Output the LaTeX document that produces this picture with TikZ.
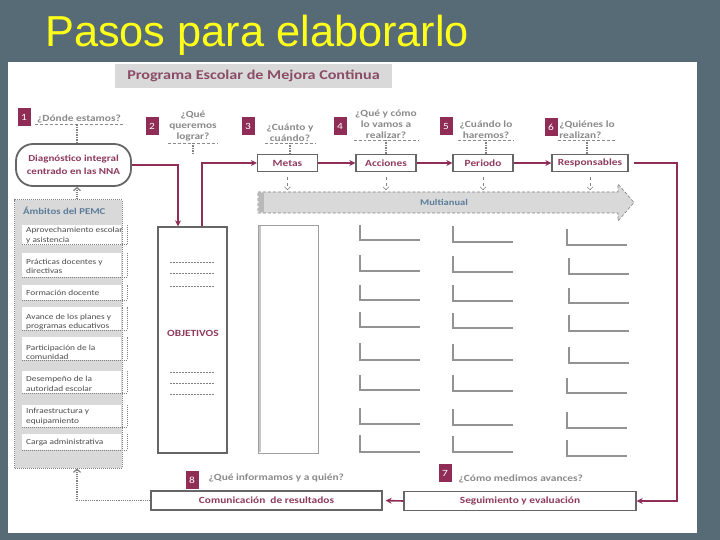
\documentclass[tikz,border=0pt]{standalone}
\usepackage{fontspec}
\setmainfont{Liberation Sans}
\newfontfamily\pemcfont{Carlito}[FakeStretch=1.2]
\usetikzlibrary{arrows.meta}

\definecolor{slate}{HTML}{566B76}
\definecolor{guinda}{HTML}{8F2D56}
\definecolor{guindatxt}{HTML}{8E3B5E}
\definecolor{txtgray}{HTML}{8A8A8A}
\definecolor{boxgray}{HTML}{666666}
\definecolor{fillgray}{HTML}{D9D9D9}
\definecolor{steel}{HTML}{5A7C9A}
\definecolor{titleyellow}{HTML}{FFFF1A}

\begin{document}
\begin{tikzpicture}[x=1bp, y=-1bp,
  badge/.style={fill=guinda, text=white, minimum width=13bp, minimum height=18bp, inner sep=0pt, font=\pemcfont\fontsize{9.5}{10}\selectfont},
  ask/.style={text=txtgray, font=\pemcfont\bfseries\fontsize{9.5}{11}\selectfont, align=center, inner sep=1.5bp},
  uline/.style={txtgray, densely dashed, line width=0.8bp},
  vlink/.style={gray, densely dotted, line width=1.5bp},
  stepbox/.style={draw=boxgray, line width=1.3bp, fill=white, minimum width=60bp, minimum height=17bp, inner sep=1bp, text=guindatxt, font=\pemcfont\bfseries\fontsize{9.5}{11}\selectfont},
  flow/.style={guinda, line width=1.6bp, -{Stealth[length=6bp, width=6bp]}},
  drop/.style={gray, dashed, line width=0.6bp, -{Straight Barb[length=3bp, width=6bp]}},
  dotlink/.style={gray, densely dotted, line width=1.2bp, -{Straight Barb[length=3bp, width=7bp]}},
  itemtxt/.style={anchor=west, inner sep=0pt, align=left, text=black!70, font=\pemcfont\fontsize{7.8}{9.5}\selectfont},
  itemedge/.style={gray, densely dotted, line width=1bp},
  objdash/.style={gray, dash pattern=on 2bp off 1bp, line width=0.7bp},
  lgray/.style={gray!85, line width=1.1bp}
]
  \useasboundingbox (0,0) rectangle (720,540);
  \fill[slate] (0,0) rectangle (720,540);
  \fill[white] (8,62) rectangle (697,533);

  \node[anchor=base west, inner sep=0pt, text=titleyellow, font=\fontsize{43.5}{50}\selectfont] (title) at (45,47) {Pasos para elaborarlo};
  \node[fill=fillgray, minimum width=277bp, minimum height=24bp, text=guindatxt!75!gray, font=\pemcfont\bfseries\fontsize{13.5}{15}\selectfont] (prog) at (253.5,76) {Programa Escolar de Mejora Continua};

  \node[badge] (b1) at (24,117) {1};
  \node[badge] (b2) at (152,126) {2};
  \node[badge] (b3) at (248,126) {3};
  \node[badge] (b4) at (340,126) {4};
  \node[badge] (b5) at (446,126) {5};
  \node[badge] (b6) at (551,127) {6};
  \node[badge] (b7) at (445,473) {7};
  \node[badge] (b8) at (192,480) {8};

  \node[ask, anchor=south] (q1) at (79,124.5) {¿Dónde estamos?};
  \node[ask, anchor=south] (q2) at (193,143) {¿Qué\\queremos\\lograr?};
  \node[ask, anchor=south] (q3) at (290,143) {¿Cuánto y\\cuándo?};
  \node[ask, anchor=south] (q4) at (386,140) {¿Qué y cómo\\lo vamos a\\realizar?};
  \node[ask, anchor=south] (q5) at (486,140) {¿Cuándo lo\\haremos?};
  \node[ask, anchor=south, align=left] (q6) at (587,140) {¿Quiénes lo\\realizan?};
  \node[ask, anchor=west] (q7) at (457,479) {¿Cómo medimos avances?};
  \node[ask, anchor=west] (q8) at (207,478) {¿Qué informamos y a quién?};

  \draw[uline] (q1.south west) -- (q1.south east);
  \draw[uline] (q2.south west) -- (q2.south east);
  \draw[uline] (q3.south west) -- (q3.south east);
  \draw[uline] (q4.south west) -- (q4.south east);
  \draw[uline] (q5.south west) -- (q5.south east);
  \draw[uline] (q6.south west) -- (q6.south east);

  \node[draw=boxgray, line width=1.8bp, rounded corners=17bp, minimum width=115bp, minimum height=42bp, align=center, text=guindatxt, font=\pemcfont\bfseries\fontsize{9.2}{13}\selectfont] (diag) at (73.5,165) {Diagnóstico integral\\centrado en las NNA};

  \node[stepbox] (metas) at (287.5,163) {Metas};
  \node[stepbox] (acciones) at (386,163) {Acciones};
  \node[stepbox] (periodo) at (483,163) {Periodo};
  \node[stepbox, minimum width=76bp] (resp) at (590,163) {Responsables};
  \node[stepbox, minimum width=231bp, minimum height=19bp] (com) at (266.5,500.5) {Comunicación\ \ de resultados};
  \node[stepbox, minimum width=232bp, minimum height=19bp] (seg) at (520,501) {Seguimiento y evaluación};

  \coordinate (q2end) at (193,155);
  \coordinate (rline) at (677,330);
  \draw[vlink] (q1.south -| 77,0) -- (diag.north -| 77,0);
  \draw[vlink] (q2.south) -- (q2end);
  \draw[vlink] (q3.south) -- (q3.south |- metas.north);
  \draw[vlink] (q4.south) -- (q4.south |- acciones.north);
  \draw[vlink] (q5.south) -- (q5.south |- periodo.north);
  \draw[vlink] (q6.south) -- (q6.south |- resp.north);

  \filldraw[fill=fillgray, draw=gray, densely dashed, line width=0.6bp] (258,192) -- (618,192) -- (618,184) -- (634,202.5) -- (618,221) -- (618,213) -- (258,213) -- cycle;
  \fill[gray!55] (258.5,193) rectangle (264,212.5);
  \node[text=steel, font=\pemcfont\bfseries\fontsize{8.8}{10}\selectfont] (multi) at (444,202) {Multianual};

  \draw[drop] ([yshift=-5bp]metas.south) -- ++(0,13);
  \draw[drop] ([yshift=-5bp]acciones.south) -- ++(0,13);
  \draw[drop] ([yshift=-5bp]periodo.south) -- ++(0,13);
  \draw[drop] ([yshift=-5bp]resp.south) -- ++(0,13);

  \node[draw=boxgray, line width=1.3bp, minimum width=69bp, minimum height=226bp] (obj) at (192.5,340) {};
  \node[text=guindatxt, font=\pemcfont\bfseries\fontsize{9.5}{11}\selectfont] (objlabel) at (193,333) {OBJETIVOS};
  \draw[objdash] (170,262) -- (214,262);
  \draw[objdash] (170,273) -- (214,273);
  \draw[objdash] (170,286) -- (214,286);
  \draw[objdash] (170,372) -- (214,372);
  \draw[objdash] (170,383) -- (214,383);
  \draw[objdash] (170,394) -- (214,394);

  \draw[flow] (diag.east) -| (obj.north -| 178,0);
  \draw[flow] (obj.north -| 202,0) |- (metas.west);
  \draw[flow] (metas) -- (acciones);
  \draw[flow] (acciones) -- (periodo);
  \draw[flow] (periodo) -- (resp);
  \draw[flow, shorten <=5bp] (resp.east) -| (rline) |- (seg.east);
  \draw[flow, shorten >=3bp] (seg.west) -- (com.east);

  \draw[gray!75, line width=0.8bp] (258,225) rectangle (318,453);
  \draw[gray!45, line width=2bp] (260,226) -- (260,452);

  \draw[lgray] (360,225) |- (420,240);
  \draw[lgray] (360,255) |- (420,271);
  \draw[lgray] (360,285) |- (420,300);
  \draw[lgray] (360,312) |- (420,327);
  \draw[lgray] (360,343) |- (420,360);
  \draw[lgray] (360,375) |- (420,390);
  \draw[lgray] (360,408) |- (420,424);
  \draw[lgray] (360,435) |- (420,452);
  \draw[lgray] (453,226) |- (513,242);
  \draw[lgray] (453,256) |- (513,272);
  \draw[lgray] (453,285) |- (513,301);
  \draw[lgray] (453,313) |- (513,328);
  \draw[lgray] (453,344) |- (513,360);
  \draw[lgray] (453,375) |- (513,391);
  \draw[lgray] (453,409) |- (513,425);
  \draw[lgray] (453,436) |- (513,452);
  \draw[lgray] (567,229) |- (627,245);
  \draw[lgray] (569,258) |- (629,274);
  \draw[lgray] (569,288) |- (629,303);
  \draw[lgray] (569,315) |- (629,331);
  \draw[lgray] (569,347) |- (629,363);
  \draw[lgray] (567,378) |- (627,393);
  \draw[lgray] (567,412) |- (627,428);
  \draw[lgray] (567,440) |- (627,456);

  \node[draw=gray, densely dotted, line width=1bp, fill=fillgray, minimum width=107bp, minimum height=268bp] (ambitos) at (68.5,334) {};
  \node[anchor=west, inner sep=0pt, text=steel, font=\pemcfont\bfseries\fontsize{9}{10}\selectfont] (ambhead) at (23,211) {Ámbitos del PEMC};

  \fill[white] (22,225) rectangle (121,245);
  \fill[white] (22,253) rectangle (121,277);
  \fill[white] (22,285) rectangle (121,300);
  \fill[white] (22,307) rectangle (121,330);
  \fill[white] (22,337) rectangle (121,360);
  \fill[white] (22,371) rectangle (121,393);
  \fill[white] (22,405) rectangle (121,427);
  \fill[white] (22,434) rectangle (121,450);
  \draw[itemedge] (22,245) -| (127,225);
  \draw[itemedge] (22,277) -| (127,253);
  \draw[itemedge] (22,300) -| (127,285);
  \draw[itemedge] (22,330) -| (127,307);
  \draw[itemedge] (22,360) -| (127,337);
  \draw[itemedge] (22,393) -| (127,371);
  \draw[itemedge] (22,427) -| (127,405);
  \draw[itemedge] (22,450) -| (127,434);

  \node[itemtxt] (a1) at (26,235.5) {Aprovechamiento escolar\\y asistencia};
  \node[itemtxt] (a2) at (26,266.5) {Prácticas docentes y\\directivas};
  \node[itemtxt] (a3) at (26,293) {Formación docente};
  \node[itemtxt] (a4) at (26,322) {Avance de los planes y\\programas educativos};
  \node[itemtxt] (a5) at (26,352.5) {Participación de la\\comunidad};
  \node[itemtxt] (a6) at (26,384) {Desempeño de la\\autoridad escolar};
  \node[itemtxt] (a7) at (26,416.5) {Infraestructura y\\equipamiento};
  \node[itemtxt] (a8) at (26,442.5) {Carga administrativa};

  \draw[dotlink] (ambitos.north -| 77,0) -- (diag.south -| 77,0);
  \draw[dotlink] (com.west) -| (ambitos.south -| 77,0);
\end{tikzpicture}
\end{document}
